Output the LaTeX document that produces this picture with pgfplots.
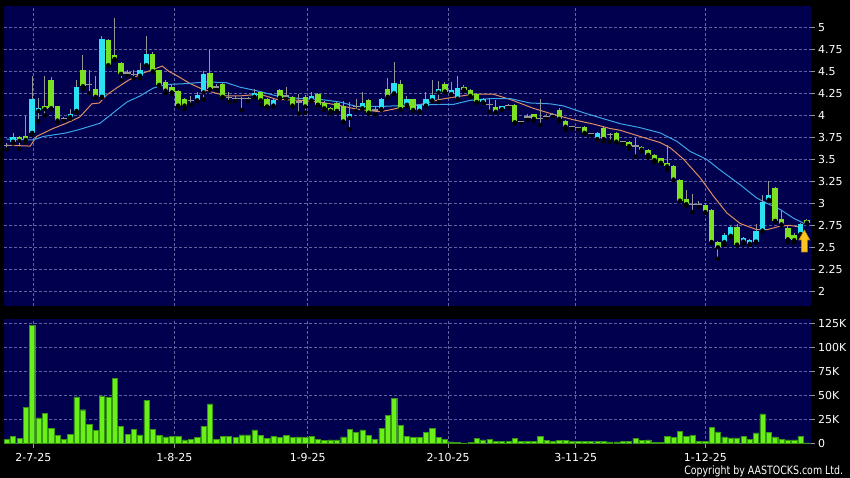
\documentclass[border=0pt]{standalone}
\usepackage{pgfplots}
\pgfplotsset{compat=1.18}
\usepackage{pgfplotstable}
\usepackage{fontspec}
\setmainfont{DejaVu Sans}
\definecolor{navy}{RGB}{0,0,78}
\definecolor{gridc}{RGB}{95,100,160}
\definecolor{upc}{RGB}{45,225,245}
\definecolor{dnc}{RGB}{125,225,35}
\definecolor{volc}{RGB}{105,240,25}
\definecolor{volb}{RGB}{55,150,20}
\definecolor{wick}{RGB}{150,150,150}
\definecolor{maor}{RGB}{225,140,100}
\definecolor{mabl}{RGB}{60,165,230}
\definecolor{gold}{RGB}{255,195,30}

\pgfdeclareplotmark{uparrow}{%
  \pgfpathmoveto{\pgfpoint{0bp}{11bp}}%
  \pgfpathlineto{\pgfpoint{5.5bp}{1bp}}%
  \pgfpathlineto{\pgfpoint{3bp}{1bp}}%
  \pgfpathlineto{\pgfpoint{3bp}{-11bp}}%
  \pgfpathlineto{\pgfpoint{-3bp}{-11bp}}%
  \pgfpathlineto{\pgfpoint{-3bp}{1bp}}%
  \pgfpathlineto{\pgfpoint{-5.5bp}{1bp}}%
  \pgfpathclose
  \pgfusepathqfillstroke}

\pgfplotstableread{
x o h l c
1 3.70 3.80 3.68 3.75
4 3.80 4.45 3.78 4.18
5 4.05 4.20 3.93 4.08
10 3.98 4.075 3.96 4.01
11 4.05 4.40 4.03 4.32
15 4.21 4.90 4.20 4.87
21 4.45 4.59 4.42 4.52
22 4.57 4.90 4.56 4.70
30 4.17 4.26 4.16 4.23
31 4.26 4.50 4.18 4.47
39 4.21 4.30 4.20 4.25
42 4.11 4.18 4.10 4.17
48 4.17 4.27 4.16 4.22
54 3.97 4.15 3.84 4.02
56 4.08 4.27 4.07 4.135
59 4.07 4.20 4.06 4.19
61 4.25 4.60 4.24 4.37
63 4.12 4.22 4.11 4.19
65 4.05 4.13 4.04 4.12
66 4.11 4.27 4.10 4.18
67 4.17 4.40 4.16 4.23
68 4.26 4.39 4.15 4.30
70 4.24 4.38 4.23 4.29
71 4.19 4.45 4.18 4.31
75 4.15 4.20 4.14 4.19
78 4.07 4.11 4.06 4.10
93 3.73 3.81 3.72 3.80
113 2.56 2.66 2.53 2.64
114 2.63 2.74 2.62 2.73
116 2.565 2.62 2.54 2.61
117 2.54 2.59 2.53 2.58
118 2.565 2.76 2.55 2.69
119 2.69 3.09 2.68 3.02
120 3.04 3.25 3.03 3.09
125 2.65 2.78 2.60 2.77
}\up

\pgfplotstableread{
x o h l c
2 3.75 3.76 3.62 3.71
3 3.77 3.99 3.69 3.72
6 4.10 4.45 4.00 4.07
7 4.40 4.43 4.07 4.08
8 4.10 4.11 3.92 3.94
12 4.52 4.69 4.30 4.33
14 4.30 4.45 4.20 4.21
16 4.86 4.87 4.56 4.57
17 4.69 5.10 4.62 4.64
18 4.59 4.60 4.40 4.47
23 4.70 4.72 4.49 4.50
24 4.51 4.52 4.33 4.345
25 4.38 4.40 4.25 4.28
26 4.32 4.34 4.24 4.26
27 4.28 4.29 4.10 4.11
28 4.19 4.20 4.07 4.11
32 4.485 4.74 4.29 4.295
34 4.36 4.37 4.20 4.21
40 4.26 4.27 4.12 4.17
41 4.19 4.20 4.09 4.10
43 4.29 4.30 4.19 4.20
45 4.21 4.22 4.10 4.11
47 4.21 4.23 4.03 4.10
49 4.24 4.25 4.11 4.12
50 4.14 4.16 4.06 4.08
51 4.08 4.09 4.02 4.05
52 4.14 4.15 4.04 4.05
53 4.11 4.16 3.92 3.93
57 4.17 4.18 4.02 4.03
60 4.30 4.42 4.20 4.21
62 4.35 4.40 4.06 4.07
64 4.18 4.19 4.05 4.06
69 4.36 4.38 4.26 4.27
72 4.32 4.34 4.28 4.29
73 4.29 4.30 4.21 4.22
74 4.24 4.25 4.14 4.15
77 4.09 4.17 4.03 4.04
80 4.12 4.13 3.91 3.92
83 4.01 4.02 3.94 3.96
87 4.06 4.08 3.93 3.96
88 3.94 3.95 3.83 3.87
91 3.87 3.88 3.79 3.80
94 3.86 3.87 3.70 3.73
96 3.80 3.81 3.69 3.70
98 3.70 3.71 3.62 3.65
100 3.64 3.65 3.59 3.61
101 3.61 3.62 3.52 3.55
102 3.55 3.56 3.47 3.49
103 3.51 3.52 3.45 3.46
104 3.46 3.66 3.38 3.42
105 3.42 3.43 3.26 3.27
106 3.27 3.28 3.02 3.03
107 3.05 3.15 2.97 2.99
110 2.985 3.00 2.89 2.90
111 2.92 2.93 2.55 2.56
112 2.56 2.57 2.37 2.50
115 2.73 2.76 2.52 2.53
121 3.17 3.18 2.79 2.80
122 2.82 2.92 2.75 2.76
123 2.72 2.74 2.56 2.59
124 2.64 2.66 2.55 2.58
126 2.81 2.82 2.77 2.78
}\dn

\pgfplotstableread{
x o h l c
0 3.66 3.69 3.61 3.66
9 3.96 3.98 3.94 3.96
13 4.35 4.52 4.25 4.35
19 4.48 4.52 4.45 4.48
20 4.46 4.52 4.42 4.46
29 4.17 4.22 4.12 4.17
33 4.32 4.35 4.29 4.32
35 4.20 4.26 4.15 4.20
36 4.19 4.22 4.16 4.19
37 4.19 4.21 4.06 4.19
38 4.19 4.21 4.16 4.19
44 4.22 4.32 4.19 4.22
46 4.15 4.24 4.02 4.15
55 4.10 4.19 4.05 4.10
58 4.06 4.11 4.01 4.06
76 4.12 4.19 4.04 4.12
79 4.11 4.13 4.09 4.11
81 3.93 3.94 3.92 3.93
82 3.98 4.01 3.95 3.98
84 3.96 4.18 3.89 3.96
85 3.99 4.01 3.97 3.99
86 4.01 4.03 3.99 4.01
89 3.87 3.88 3.85 3.87
90 3.86 3.87 3.84 3.86
92 3.79 3.80 3.77 3.79
95 3.78 3.80 3.70 3.78
97 3.70 3.71 3.68 3.70
99 3.65 3.74 3.53 3.65
108 2.985 3.11 2.90 2.985
109 2.985 3.03 2.96 2.985
}\dj

\pgfplotstableread{
x v
0 4.5
1 7.3
2 5.2
3 37.8
4 123
5 26.4
6 30.9
7 15.6
8 8.3
9 4.5
10 9.4
11 48.3
12 35
13 20.1
14 13.5
15 49.3
16 47.9
17 68
18 17.7
19 9.4
20 14.2
21 8.7
22 45.1
23 14.2
24 8.3
25 6.6
26 7.3
27 7.3
28 3.5
29 4.5
30 6.3
31 18
32 41
33 4.5
34 7
35 7
36 6
37 8.7
38 8.7
39 13.9
40 8
41 5.2
42 7.6
43 6
44 8.3
45 6.3
46 6.6
47 6.3
48 7
49 4.2
50 2.8
51 3.5
52 3.5
53 6.6
54 14.2
55 11.5
56 13.9
57 8.3
58 4.5
59 15.6
60 29.2
61 46.9
62 18.8
63 7.3
64 6
65 6
66 11.5
67 15.6
68 6.3
69 4.2
70 1.4
71 1
72 0.3
73 1
74 5.2
75 3.5
76 4.2
77 2.4
78 1.7
79 1.7
80 5.2
81 2
82 2
83 2
84 7.6
85 2.8
86 1.7
87 2.8
88 2.8
89 2
90 1.7
91 1.7
92 1.7
93 2
94 1.7
95 1.4
96 1.4
97 2
98 2
99 4.9
100 2.8
101 3.5
102 0.7
103 1
104 7.6
105 6
106 12.5
107 7.6
108 8.3
109 1.7
110 2.4
111 16.3
112 11.8
113 6.6
114 5.6
115 5.6
116 7.6
117 4.2
118 10.8
119 30.6
120 11.5
121 6.6
122 4.2
123 3.5
124 3.5
125 7
126 0.5
}\vol

\pgfplotsset{
  chartax/.style={
    scale only axis, width=806.7bp,
    xmin=-0.43, xmax=126.6,
    axis background/.style={fill=navy},
    axis line style={draw=none},
    xmajorgrids, ymajorgrids,
    major grid style={gridc, dash pattern=on 2.5bp off 2.5bp, line width=0.7bp},
    xtick={4.2,26.4,47.4,69.5,89.6,110},
    ytick pos=right, yticklabel pos=right,
    xtick pos=bottom,
    tick align=outside,
    major tick length=4bp,
    tick style={wick, line width=0.8bp},
    ticklabel style={white, font=\fontsize{11bp}{13bp}\selectfont},
  },
  wickst/.style={only marks, mark=none,
    error bars/.cd, y dir=plus, y explicit, error mark=none,
    error bar style={draw=wick, line width=1bp}},
}

\begin{document}
\begin{tikzpicture}
\fill[black] (0,0) rectangle (850bp,478bp);

% price panel
\begin{axis}[chartax, at={(4bp,172bp)}, anchor=south west, height=300bp,
  ymin=1.833, ymax=5.242,
  ytick={2,2.25,2.5,2.75,3,3.25,3.5,3.75,4,4.25,4.5,4.75,5},
  yticklabels={2,2.25,2.5,2.75,3,3.25,3.5,3.75,4,4.25,4.5,4.75,5},
  xticklabels={}, xtick style={draw=none}]
\addplot[maor, line width=1bp] coordinates {
(0,3.66) (3.7,3.65) (4.7,3.76) (7.3,3.85) (9.4,3.91) (11.5,3.98) (13.4,4.13)
(14.6,4.14) (15.7,4.23) (17.3,4.31) (19.2,4.40) (21.5,4.48) (23.4,4.53) (24.5,4.56)
(25.5,4.50) (26.8,4.45) (28.9,4.36) (30.4,4.31) (32.5,4.26) (34.6,4.22) (36.7,4.22)
(39.9,4.24) (42.5,4.18) (46.2,4.17) (49.4,4.15) (52.5,4.11) (55.1,4.07) (58.8,4.04)
(60.9,4.07) (62.5,4.10) (65,4.12) (68.2,4.18) (70.3,4.205) (73.5,4.24) (76.6,4.24)
(79.3,4.18) (82.9,4.08) (86.1,4.01) (89.2,3.95) (92.4,3.90) (95,3.85) (96.6,3.83)
(99.7,3.76) (102.9,3.69) (104.5,3.63) (106.6,3.50) (109.2,3.29) (111.3,3.08)
(113.4,2.89) (115.5,2.77) (118.1,2.70) (119.7,2.70) (121.8,2.74) (123.3,2.75) (124.9,2.73)};
\addplot[mabl, line width=1bp] coordinates {
(0,3.73) (4.2,3.72) (5.8,3.76) (9.4,3.80) (11.5,3.84) (14.7,3.91) (16.8,4.03)
(18.9,4.15) (21,4.22) (23.1,4.31) (25.2,4.35) (28.3,4.36) (31.5,4.38) (34.6,4.37)
(36.7,4.32) (39.9,4.27) (42.5,4.22) (46.2,4.19) (49.4,4.18) (52.5,4.15) (55.1,4.10)
(58.8,4.10) (62,4.11) (65.1,4.12) (70.4,4.125) (73,4.17) (76.2,4.19) (79.3,4.19)
(82.4,4.14) (85.6,4.13) (87.7,4.106) (90.8,4.03) (94,3.96) (96.6,3.905) (99.7,3.86)
(102.9,3.80) (105.5,3.705) (107.6,3.59) (110.2,3.50) (112.3,3.38) (115.5,3.21)
(118.1,3.06) (119.7,3.00) (121.8,2.93) (123.9,2.83) (125.6,2.77)};
% wicks
\addplot[wickst] table[x=x, y=l, y error expr=\thisrow{h}-\thisrow{l}] {\up};
\addplot[wickst] table[x=x, y=l, y error expr=\thisrow{h}-\thisrow{l}] {\dn};
\addplot[wickst] table[x=x, y=l, y error expr=\thisrow{h}-\thisrow{l}] {\dj};
% bodies
\addplot[only marks, mark=none, error bars/.cd, y dir=plus, y explicit, error mark=none,
  error bar style={draw=upc, line width=5.4bp}]
  table[x=x, y=o, y error expr=\thisrow{c}-\thisrow{o}] {\up};
\addplot[only marks, mark=none, error bars/.cd, y dir=plus, y explicit, error mark=none,
  error bar style={draw=dnc, line width=5.4bp}]
  table[x=x, y=c, y error expr=\thisrow{o}-\thisrow{c}] {\dn};
\addplot[only marks, mark=-, mark size=3.2bp, mark options={draw=wick, line width=1.3bp}]
  table[x=x, y=o] {\dj};
% arrow
\addplot[only marks, mark=uparrow, mark options={fill=gold, draw=gold!70!black, line width=0.6bp}]
  coordinates {(125.6,2.572)};
\end{axis}

% volume panel
\begin{axis}[chartax, at={(4bp,34bp)}, anchor=south west, height=125bp,
  ymin=-0.7, ymax=129.5,
  ytick={0,25,50,75,100,125},
  yticklabels={0,25K,50K,75K,100K,125K},
  xticklabels={2-7-25,1-8-25,1-9-25,2-10-25,3-11-25,1-12-25},
  xticklabel style={yshift=-1.5bp}]
\addplot[ybar, bar width=5.2bp, fill=volc, draw=volb, line width=0.4bp]
  table[x=x, y=v] {\vol};
\end{axis}

\node[anchor=base east, white, font=\fontsize{11.5bp}{13bp}\selectfont, xscale=0.82]
  at (846bp,3.3bp) {Copyright by AASTOCKS.com Ltd.};

\pgfresetboundingbox
\path[use as bounding box] (0,0) rectangle (850bp,478bp);
\end{tikzpicture}
\end{document}
